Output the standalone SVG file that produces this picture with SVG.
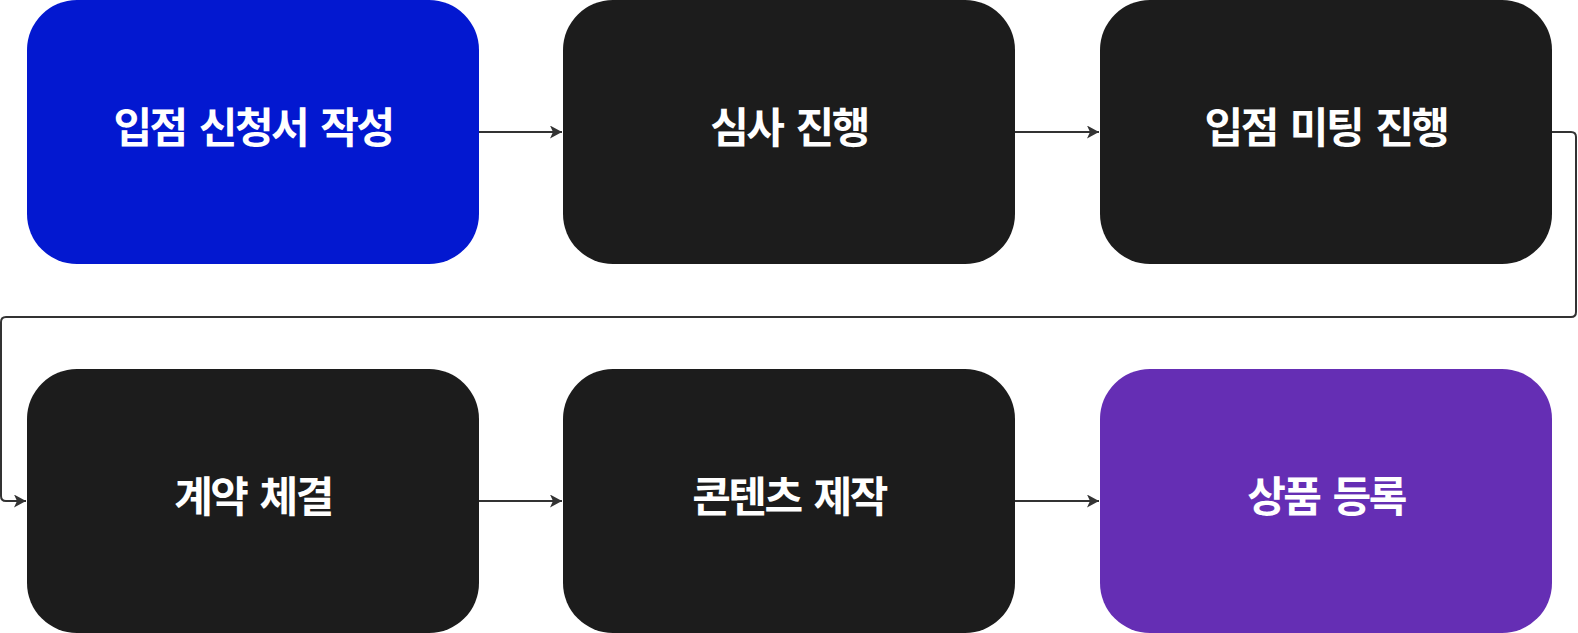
<svg xmlns="http://www.w3.org/2000/svg" width="1578" height="633" viewBox="0 0 1578 633">
  <style>
    .node { stroke: none; }
    .blue { fill: #0318D0; }
    .dark { fill: #1C1C1C; }
    .purple { fill: #652EB4; }
    .label { font-family: "Noto Sans CJK KR", "Noto Sans", sans-serif; font-weight: 700; font-size: 42px; fill: #FFFFFF; text-anchor: middle; letter-spacing: -2.5px; word-spacing: 6px; }
    .conn { fill: none; stroke: #333333; stroke-width: 2; }
  </style>
  <defs>
    <marker id="arrow" viewBox="0 0 12 13" refX="12" refY="6.5" markerWidth="12" markerHeight="13" markerUnits="userSpaceOnUse" orient="auto">
      <path d="M0,0 L12,6.5 L0,13 L3,6.5 z" fill="#333333"/>
    </marker>
  </defs>
  <rect width="1578" height="633" fill="#FFFFFF"/>
  <g id="connectors">
    <path class="conn" d="M479,132 L562,132" marker-end="url(#arrow)"/>
    <path class="conn" d="M1015,132 L1099,132" marker-end="url(#arrow)"/>
    <path class="conn" d="M1552,132 L1571,132 Q1576,132 1576,137 L1576,312 Q1576,317 1571,317 L6,317 Q1,317 1,322 L1,496 Q1,501 6,501 L26,501" marker-end="url(#arrow)"/>
    <path class="conn" d="M479,501 L562,501" marker-end="url(#arrow)"/>
    <path class="conn" d="M1015,501 L1099,501" marker-end="url(#arrow)"/>
  </g>
  <g id="node1">
    <rect class="node blue" x="27" y="0" width="452" height="264" rx="50" ry="50"/>
    <text class="label" x="253" y="143">입점 신청서 작성</text>
  </g>
  <g id="node2">
    <rect class="node dark" x="563" y="0" width="452" height="264" rx="50" ry="50"/>
    <text class="label" x="789" y="143">심사 진행</text>
  </g>
  <g id="node3">
    <rect class="node dark" x="1100" y="0" width="452" height="264" rx="50" ry="50"/>
    <text class="label" x="1326" y="143">입점 미팅 진행</text>
  </g>
  <g id="node4">
    <rect class="node dark" x="27" y="369" width="452" height="264" rx="50" ry="50"/>
    <text class="label" x="253" y="512">계약 체결</text>
  </g>
  <g id="node5">
    <rect class="node dark" x="563" y="369" width="452" height="264" rx="50" ry="50"/>
    <text class="label" x="789" y="512">콘텐츠 제작</text>
  </g>
  <g id="node6">
    <rect class="node purple" x="1100" y="369" width="452" height="264" rx="50" ry="50"/>
    <text class="label" x="1326" y="512">상품 등록</text>
  </g>
</svg>
